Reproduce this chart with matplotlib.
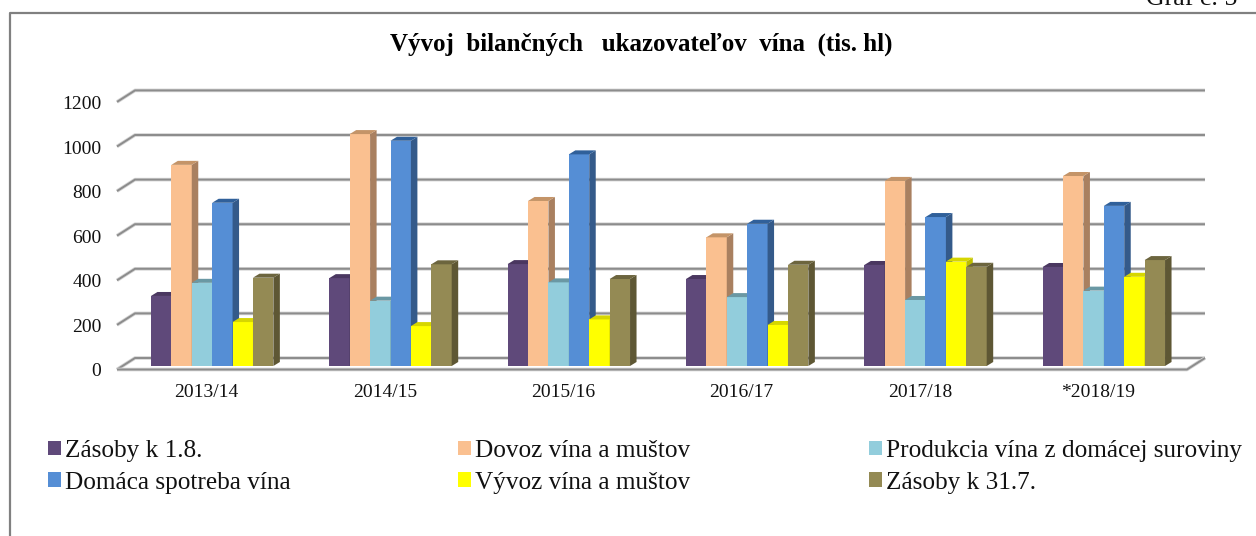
import matplotlib
matplotlib.use("Agg")
import matplotlib.pyplot as plt
from matplotlib.lines import Line2D
from matplotlib.transforms import ScaledTranslation
import numpy as np

plt.rcParams["font.family"] = ["Liberation Serif", "DejaVu Serif"]

# ------------------------------------------------------------
# DATA
# ------------------------------------------------------------
roky = ["2013/14", "2014/15", "2015/16", "2016/17", "2017/18", "*2018/19"]

zasoby_18 = [314, 394, 457, 390, 453, 444]
dovoz = [902, 1040, 740, 577, 830, 852]
produkcia = [373, 293, 375, 309, 296, 338]
spotreba = [732, 1010, 949, 638, 668, 718]
vyvoz = [197, 179, 209, 184, 468, 400]
zasoby_317 = [396, 456, 390, 454, 445, 475]

y_ticks = [0, 200, 400, 600, 800, 1000, 1200]

serie = [
    ("Zásoby k 1.8.", zasoby_18, "#5F497A", "#3E2F52", "#4A3760"),
    ("Dovoz vína a muštov", dovoz, "#FAC090", "#A98060", "#C49468"),
    ("Produkcia vína z domácej suroviny", produkcia, "#92CDDC", "#6A98A4", "#6A98A4"),
    ("Domáca spotreba vína", spotreba, "#558ED5", "#345A8A", "#30609A"),
    ("Vývoz vína a muštov", vyvoz, "#FFFF00", "#BDBD00", "#D6D600"),
    ("Zásoby k 31.7.", zasoby_317, "#948A54", "#5E5734", "#6C653E"),
]

# ------------------------------------------------------------
# LAYOUT (pixels of the 1256x536 picture)
# ------------------------------------------------------------
W, H = 1256, 536
AX_L, AX_R, AX_Y0, AX_YTOP = 123, 1193, 366, 98.4
GRID = "#8C8C8C"
HALO = "#D4D4D4"

fig = plt.figure(figsize=(W / 100, H / 100), dpi=100, facecolor="white")
ax = fig.add_axes([AX_L / W, 1 - AX_Y0 / H, (AX_R - AX_L) / W, (AX_Y0 - AX_YTOP) / H])
ax.set_xlim(0, len(roky))
ax.set_ylim(0, 1200)
ax.patch.set_visible(False)
for s in ax.spines.values():
    s.set_visible(False)

px_x = len(roky) / (AX_R - AX_L)
px_y = 1200 / (AX_Y0 - AX_YTOP)

# back wall gridlines + left wing of the fake 3D floor
x0, x1 = ax.get_xlim()
fl, bk = -6 * px_x, 12 * px_x
fy, by = -3.5 * px_y, 8 * px_y
for v in y_ticks:
    for c, w, z in [(HALO, 2.6, 0.9), (GRID, 1.4, 1)]:
        ax.plot([x0 + fl, x0 + bk, x1 + bk], [v + fy, v + by, v + by],
                color=c, lw=w, clip_on=False, zorder=z, solid_capstyle="butt")
# floor front edge
for c, w, z in [(HALO, 2.6, 1.4), (GRID, 1.4, 1.5)]:
    ax.plot([x0 + fl, x1 + fl, x1 + bk], [fy, fy, by], color=c, lw=w,
            clip_on=False, zorder=z, solid_capstyle="butt")

# bars, series by series so that the next front hides the previous side
bar_w = 20.4 * px_x
dx, dy = 6.5 * px_x, 4 * px_y
stred = np.arange(len(roky)) + 0.5
handles = {}
for j, (nazov, hodnoty, farba, bok, vrch) in enumerate(serie):
    xs = stred + (j - 2.5) * bar_w
    bars = ax.bar(xs, hodnoty, width=bar_w, color=farba, zorder=2, clip_on=False)
    handles[nazov] = bars[0]
    for x, v in zip(xs, hodnoty):
        r = x + bar_w / 2
        l = x - bar_w / 2
        ax.fill([r, r + dx, r + dx, r], [0, dy, v + dy, v], color=bok, lw=0,
                zorder=2, clip_on=False)
        ax.fill([l, l + dx, r + dx, r], [v, v + dy, v + dy, v], color=vrch, lw=0,
                zorder=2, clip_on=False)

# axis labels
ax.set_yticks(y_ticks)
ax.set_xticks(stred)
ax.set_xticklabels(roky)
ax.tick_params(axis="both", length=0, labelsize=14, labelcolor="#111111")
ax.tick_params(axis="y", pad=15.5)
ax.tick_params(axis="x", pad=13)
for t in ax.get_yticklabels():
    t.set_transform(t.get_transform() + ScaledTranslation(0, -4 / 100, fig.dpi_scale_trans))
for t in ax.get_xticklabels():
    t.set_transform(t.get_transform() + ScaledTranslation(-5.5 / 100, 0, fig.dpi_scale_trans))

# legend, one legend per column to keep the row-wise order of the original
stlpce = [(48, [0, 3]), (458, [1, 4]), (869, [2, 5])]
for x_px, idx in stlpce:
    hs = [handles[serie[i][0]] for i in idx]
    ls = [serie[i][0] for i in idx]
    fig.legend(hs, ls, loc="upper left", bbox_to_anchor=(x_px / W, 1 - 440 / H),
               frameon=False, fontsize=18.2, handlelength=0.5, handleheight=0.5,
               handletextpad=0.18, labelspacing=0.38, borderpad=0, borderaxespad=0,
               labelcolor="#111111")

# title and the cut off caption
fig.text(641 / W, 1 - 44 / H, "Vývoj  bilančných   ukazovateľov  vína  (tis. hl)",
         ha="center", va="center", fontsize=18, fontweight="bold", color="black")
fig.text(1237 / W, 1 - 5 / H, "Graf č. 5", ha="right", va="baseline",
         fontsize=18.6, color="#111111")

# outer frame, runs off the picture on the right and at the bottom
fig.add_artist(Line2D([9.5 / W, 9.5 / W, 1], [0, 1 - 13 / H, 1 - 13 / H],
                      color="#808080", lw=1.6, transform=fig.transFigure))

fig.savefig("out.png", dpi=100, facecolor="white")
